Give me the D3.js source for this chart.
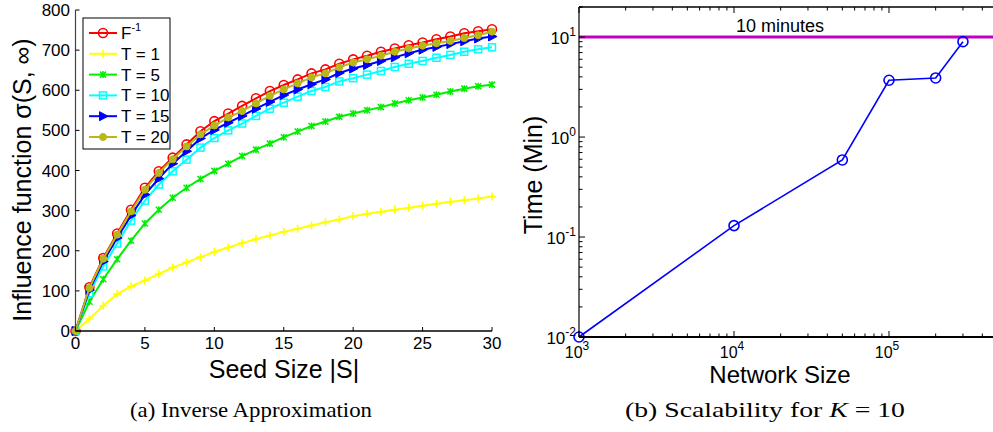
<!DOCTYPE html>
<html>
<head>
<meta charset="utf-8">
<script src="https://cdn.jsdelivr.net/npm/d3@7"></script>
<style>
  html, body { margin: 0; padding: 0; background: #fff; }
  svg { display: block; }
  text { font-family: "Liberation Sans", Arial, sans-serif; fill: #000; }
  .cap { font-family: "Liberation Serif", "Times New Roman", serif; }
</style>
</head>
<body>
<svg id="fig" width="993" height="432"></svg>
<script>
// ---- Panel (a): influence vs seed size ----
const seedSizes = [0,1,2,3,4,5,6,7,8,9,10,11,12,13,14,15,16,17,18,19,20,21,22,23,24,25,26,27,28,29,30];
const inverseF = [0,109,182,243,302,357,398,432,465,498,523,542,561,580,598,613,627,642,652,666,677,686,696,704,712,719,727,734,742,747,752];
const horizonT1 = [0,30,63,92,111,126,142,158,171,184,197,208,219,229,238,247,255,263,271,278,286,292,297,302,307,312,317,322,326,330,335];
const horizonT5 = [0,73,129,179,225,268,302,332,357,379,399,417,436,452,467,483,497,511,522,534,542,550,558,567,575,582,589,597,604,610,614];
const horizonT10 = [0,94,161,218,275,325,365,398,427,457,481,500,517,536,554,569,584,598,608,622,630,639,648,658,666,673,681,688,696,702,707];
const horizonT15 = [0,102,173,232,288,340,380,417,448,480,501,519,536,554,571,588,602,615,627,643,654,663,673,682,692,701,708,715,722,729,734];
const horizonT20 = [0,107,180,240,298,352,394,428,460,490,512,532,548,567,586,602,617,632,642,657,669,677,686,696,704,711,717,723,730,737,746];
const seriesNames = ["F-1", "T = 1", "T = 5", "T = 10", "T = 15", "T = 20"];
const seedTicks = [0,5,10,15,20,25,30];
const influenceTicks = [0,100,200,300,400,500,600,700,800];

// ---- Panel (b): running time vs network size ----
const networkSizes = [1000, 10000, 50000, 100000, 200000, 300000];
const runTimes = [0.01, 0.13, 0.59, 3.7, 3.9, 9.0];
const timeLimit = 10;
const sizeTickExps = [3, 4, 5];
const timeTickExps = [-2, -1, 0, 1];

const svg = d3.select("#fig");

// ================= Panel (a) =================
const xA = d3.scaleLinear().domain([0, 30]).range([75.5, 492]);
const yA = d3.scaleLinear().domain([0, 800]).range([331, 10]);
const gA = svg.append("g");

const styles = [
  {color: "#ff0000", marker: "circle"},
  {color: "#ffff00", marker: "plus"},
  {color: "#00ee00", marker: "star"},
  {color: "#00ffff", marker: "square"},
  {color: "#0000ff", marker: "triangle"},
  {color: "#b8b818", marker: "dot"}
];
const seriesVals = [inverseF, horizonT1, horizonT5, horizonT10, horizonT15, horizonT20];

function drawMarker(g, type, color, cx, cy) {
  if (type === "circle") {
    g.append("circle").attr("cx", cx).attr("cy", cy).attr("r", 4.5)
      .attr("fill", "none").attr("stroke", color).attr("stroke-width", 1.6);
  } else if (type === "plus") {
    g.append("path").attr("d", `M${cx-4},${cy}H${cx+4}M${cx},${cy-4}V${cy+4}`)
      .attr("stroke", color).attr("stroke-width", 1.6).attr("fill", "none");
  } else if (type === "star") {
    g.append("path").attr("d", `M${cx-3},${cy-3}L${cx+3},${cy+3}M${cx-3},${cy+3}L${cx+3},${cy-3}M${cx},${cy-3.5}V${cy+3.5}`)
      .attr("stroke", color).attr("stroke-width", 1.5).attr("fill", "none");
  } else if (type === "square") {
    g.append("rect").attr("x", cx-3.5).attr("y", cy-3.5).attr("width", 7).attr("height", 7)
      .attr("fill", "none").attr("stroke", color).attr("stroke-width", 1.5);
  } else if (type === "triangle") {
    g.append("path").attr("d", `M${cx+5},${cy}L${cx-3.5},${cy-4.5}L${cx-3.5},${cy+4.5}Z`)
      .attr("fill", color).attr("stroke", color).attr("stroke-width", 1);
  } else if (type === "dot") {
    g.append("circle").attr("cx", cx).attr("cy", cy).attr("r", 3.5)
      .attr("fill", color).attr("stroke", color).attr("stroke-width", 1);
  }
}

const lineA = d3.line().x((d, i) => xA(seedSizes[i])).y(d => yA(d));
seriesVals.forEach((vals, k) => {
  const st = styles[k];
  const g = gA.append("g");
  g.append("path").datum(vals).attr("d", lineA)
    .attr("fill", "none").attr("stroke", st.color).attr("stroke-width", 2);
  vals.forEach((v, i) => drawMarker(g, st.marker, st.color, xA(seedSizes[i]), yA(v)));
});

// axes (ticks pointing inward)
gA.append("line").attr("x1", xA(0)).attr("x2", xA(0)).attr("y1", yA(800)).attr("y2", yA(0))
  .attr("stroke", "#444").attr("stroke-width", 1.2);
gA.append("line").attr("x1", xA(0)).attr("x2", xA(30)).attr("y1", yA(0)).attr("y2", yA(0))
  .attr("stroke", "#000").attr("stroke-width", 1.5);
influenceTicks.forEach(t => {
  gA.append("line").attr("x1", xA(0)).attr("x2", xA(0) + 4).attr("y1", yA(t)).attr("y2", yA(t))
    .attr("stroke", "#000").attr("stroke-width", 1);
  gA.append("text").attr("x", 70).attr("y", yA(t) + 6).attr("text-anchor", "end")
    .attr("font-size", 17).text(t);
});
seedTicks.forEach(t => {
  gA.append("line").attr("x1", xA(t)).attr("x2", xA(t)).attr("y1", yA(0)).attr("y2", yA(0) - 4)
    .attr("stroke", "#000").attr("stroke-width", 1);
  gA.append("text").attr("x", xA(t)).attr("y", 349).attr("text-anchor", "middle")
    .attr("font-size", 17).text(t);
});
gA.append("text").attr("x", 284).attr("y", 378).attr("text-anchor", "middle")
  .attr("font-size", 25).text("Seed Size |S|");
gA.append("text").attr("transform", "translate(31,180) rotate(-90)").attr("text-anchor", "middle")
  .attr("font-size", 25).text("Influence function \u03C3(S, \u221E)");

// legend
const leg = gA.append("g");
leg.append("rect").attr("x", 83).attr("y", 18).attr("width", 87).attr("height", 131)
  .attr("fill", "#fff").attr("stroke", "#000").attr("stroke-width", 1);
seriesNames.forEach((name, k) => {
  const ly = 33 + k * 20.8;
  const st = styles[k];
  leg.append("line").attr("x1", 89).attr("x2", 117).attr("y1", ly).attr("y2", ly)
    .attr("stroke", st.color).attr("stroke-width", 2);
  drawMarker(leg, st.marker, st.color, 103, ly);
  const t = leg.append("text").attr("x", 121).attr("y", ly + 6).attr("font-size", 17);
  if (k === 0) {
    t.append("tspan").text("F");
    t.append("tspan").attr("font-size", 11).attr("dy", -8).text("-1");
  } else {
    t.text(name);
  }
});

// ================= Panel (b) =================
const xB = d3.scaleLog().domain([1e3, 1e6]).range([579, 1044]);
const yB = d3.scaleLog().domain([1e-2, 20]).range([337, 7]);
const gB = svg.append("g");

// time limit line
gB.append("line").attr("x1", xB(1e3)).attr("x2", 993).attr("y1", yB(timeLimit)).attr("y2", yB(timeLimit))
  .attr("stroke", "#bf00bf").attr("stroke-width", 3);
gB.append("text").attr("x", 780).attr("y", 32).attr("text-anchor", "middle")
  .attr("font-size", 18).text("10 minutes");

// data
gB.append("path").datum(runTimes)
  .attr("d", d3.line().x((d, i) => xB(networkSizes[i])).y(d => yB(d)))
  .attr("fill", "none").attr("stroke", "#0000ff").attr("stroke-width", 1.6);
runTimes.forEach((v, i) => {
  gB.append("circle").attr("cx", xB(networkSizes[i])).attr("cy", yB(v)).attr("r", 5)
    .attr("fill", "none").attr("stroke", "#0000ff").attr("stroke-width", 1.6);
});

// frame
gB.append("line").attr("x1", xB(1e3)).attr("x2", 993).attr("y1", yB(20)).attr("y2", yB(20))
  .attr("stroke", "#000").attr("stroke-width", 1.5);
gB.append("line").attr("x1", xB(1e3)).attr("x2", 993).attr("y1", yB(1e-2)).attr("y2", yB(1e-2))
  .attr("stroke", "#000").attr("stroke-width", 2);
gB.append("line").attr("x1", xB(1e3)).attr("x2", xB(1e3)).attr("y1", yB(20)).attr("y2", yB(1e-2))
  .attr("stroke", "#000").attr("stroke-width", 1.2);

// x ticks (top and bottom, inward)
xB.ticks(30).forEach(t => {
  const major = Math.abs(Math.log10(t) - Math.round(Math.log10(t))) < 1e-9;
  const len = major ? 6 : 3.5;
  const px = xB(t);
  if (px > 993) return;
  gB.append("line").attr("x1", px).attr("x2", px).attr("y1", yB(1e-2)).attr("y2", yB(1e-2) - len)
    .attr("stroke", "#000").attr("stroke-width", 1);
  gB.append("line").attr("x1", px).attr("x2", px).attr("y1", yB(20)).attr("y2", yB(20) + len)
    .attr("stroke", "#000").attr("stroke-width", 1);
});
// y ticks (left, inward)
yB.ticks(30).concat([20]).forEach(t => {
  const major = Math.abs(Math.log10(t) - Math.round(Math.log10(t))) < 1e-9;
  const len = major ? 6 : 3.5;
  gB.append("line").attr("x1", xB(1e3)).attr("x2", xB(1e3) + len).attr("y1", yB(t)).attr("y2", yB(t))
    .attr("stroke", "#000").attr("stroke-width", 1);
});

// tick labels
sizeTickExps.forEach(e => {
  const t = gB.append("text").attr("x", xB(Math.pow(10, e)) - 2).attr("y", 358)
    .attr("text-anchor", "middle").attr("font-size", 16);
  t.append("tspan").text("10");
  t.append("tspan").attr("font-size", 12).attr("dy", -8).text(e);
});
timeTickExps.forEach(e => {
  const t = gB.append("text").attr("x", 576).attr("y", yB(Math.pow(10, e)) + 7)
    .attr("text-anchor", "end").attr("font-size", 17);
  t.append("tspan").text("10");
  t.append("tspan").attr("font-size", 12).attr("dy", -8).text(e);
});

gB.append("text").attr("x", 780).attr("y", 383).attr("text-anchor", "middle")
  .attr("font-size", 24).text("Network Size");
gB.append("text").attr("transform", "translate(542,175) rotate(-90)").attr("text-anchor", "middle")
  .attr("font-size", 25).text("Time (Min)");

// ================= captions =================
svg.append("text").attr("class", "cap").attr("x", 251).attr("y", 417).attr("text-anchor", "middle")
  .attr("font-size", 22).attr("textLength", 242).attr("lengthAdjust", "spacingAndGlyphs")
  .text("(a) Inverse Approximation");
const capB = svg.append("text").attr("class", "cap").attr("x", 765).attr("y", 417)
  .attr("text-anchor", "middle").attr("font-size", 22)
  .attr("textLength", 280).attr("lengthAdjust", "spacingAndGlyphs");
capB.append("tspan").text("(b) Scalability for ");
capB.append("tspan").attr("font-style", "italic").text("K");
capB.append("tspan").text(" = 10");
</script>
</body>
</html>
